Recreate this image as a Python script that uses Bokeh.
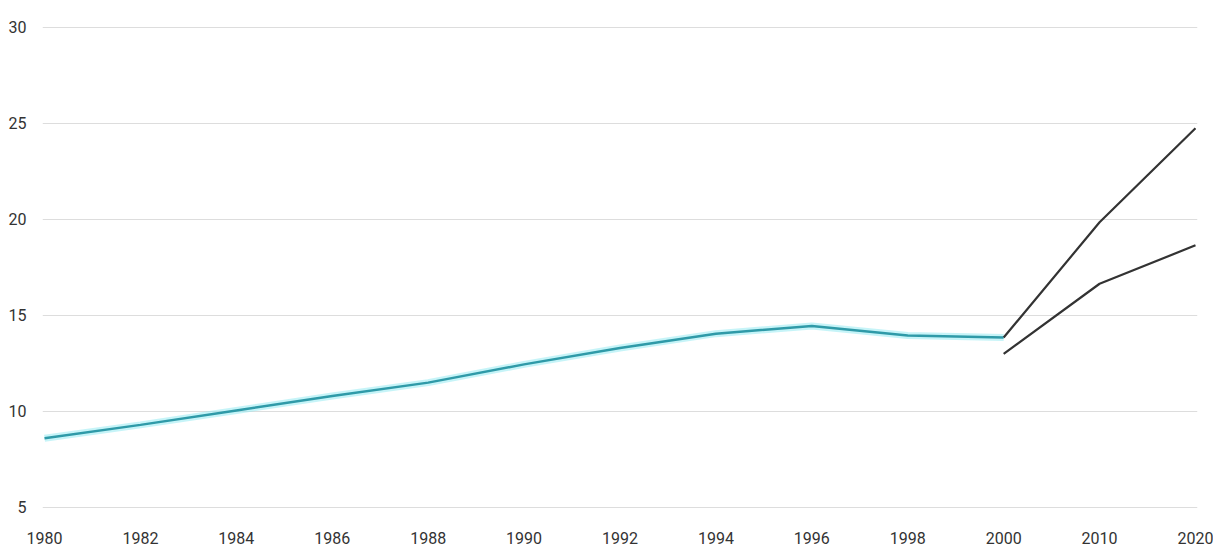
from bokeh.plotting import figure
from bokeh.models import Range1d, FixedTicker
from bokeh.embed import file_html
from bokeh.resources import INLINE

# Tick labels (evenly spaced categories on the x axis)
x_labels = ["1980", "1982", "1984", "1986", "1988", "1990", "1992",
            "1994", "1996", "1998", "2000", "2010", "2020"]

# Historical series (cyan line)
hist_years = ["1980", "1982", "1984", "1986", "1988", "1990", "1992",
              "1994", "1996", "1998", "2000"]
hist_values = [8.6, 9.3, 10.05, 10.8, 11.5, 12.45, 13.3, 14.05, 14.45, 13.95, 13.85]

# Projection series (dark lines)
proj_years = ["2000", "2010", "2020"]
proj_high = [13.85, 19.85, 24.75]
proj_low = [13.0, 16.65, 18.65]

y_ticks = [5, 10, 15, 20, 25, 30]

pos = {lab: i for i, lab in enumerate(x_labels)}
hx = [pos[y] for y in hist_years]
px = [pos[y] for y in proj_years]

p = figure(width=1213, height=546, output_backend="svg", toolbar_location=None,
           x_range=Range1d(-0.021, 12.021), y_range=Range1d(4.84, 30.36),
           min_border_left=42, min_border_right=16, min_border_top=20,
           min_border_bottom=10)
p.outline_line_color = None
p.background_fill_color = "white"

# axes
for ax in (p.xaxis[0], p.yaxis[0]):
    ax.axis_line_color = None
    ax.major_tick_line_color = None
    ax.minor_tick_line_color = None
    ax.major_label_text_font = "Roboto"
    ax.major_label_text_font_size = "16px"
    ax.major_label_text_color = "#333333"

p.xaxis.ticker = FixedTicker(ticks=list(range(len(x_labels))))
p.xaxis.major_label_overrides = {i: lab for i, lab in enumerate(x_labels)}
p.xaxis.major_label_standoff = 15
p.yaxis.ticker = FixedTicker(ticks=y_ticks)
p.yaxis.major_label_standoff = 10

p.xgrid.grid_line_color = None
p.ygrid.grid_line_color = "#dddddd"
p.ygrid.grid_line_width = 1

# glow + line for historical series
p.line(hx, hist_values, line_color="#8ee9f2", line_width=7, line_alpha=0.5)
p.line(hx, hist_values, line_color="#2f9aa8", line_width=2.5)

# projections
p.line(px, proj_high, line_color="#333333", line_width=2.2)
p.line(px, proj_low, line_color="#333333", line_width=2.2)

open("out.html", "w").write(file_html(p, INLINE))
